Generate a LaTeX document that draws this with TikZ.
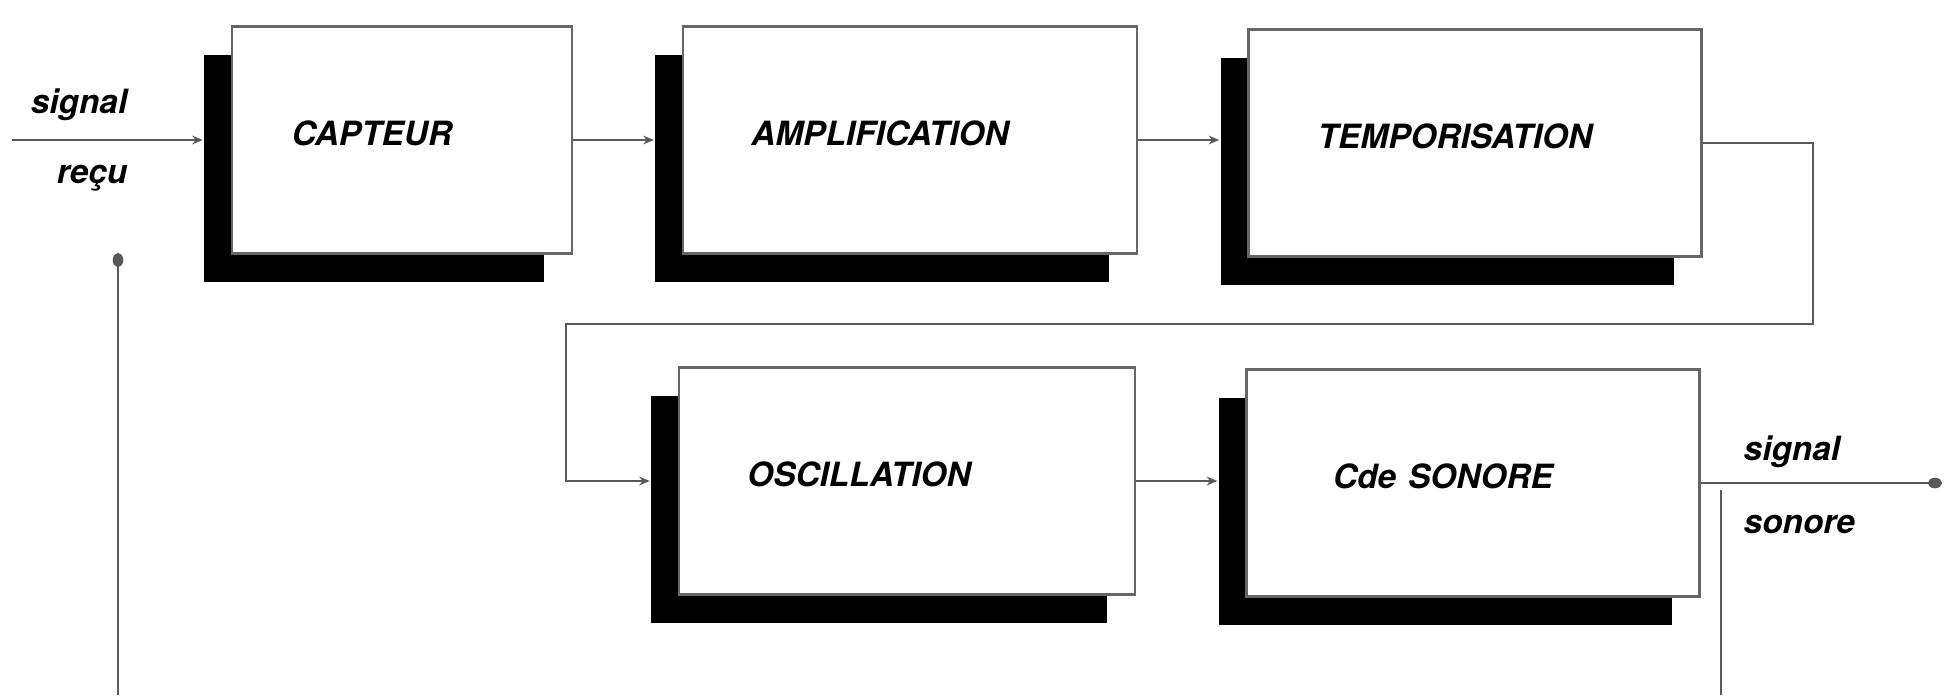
\documentclass[tikz,border=0pt]{standalone}
\usepackage{fontspec}
\setmainfont{TeX Gyre Heros}
\usetikzlibrary{shadows,arrows.meta}

\begin{document}
\begin{tikzpicture}[
    bloc/.style={draw=black!60,line width=0.7pt,fill=white,minimum height=2.27cm,
      drop shadow={shadow xshift=-0.28cm,shadow yshift=-0.28cm,fill=black,opacity=1}},
    titre/.style={font=\fontsize{9.5}{11}\selectfont\bfseries\itshape,xshift=-0.3cm,yshift=0.07cm},
    legende/.style={font=\fontsize{9.5}{11}\selectfont\bfseries\itshape,inner sep=0pt},
    fil/.style={draw=black!65,line width=0.7pt},
    entre/.style={fil,-{Stealth[length=3pt,width=2.5pt]},shorten >=0.28cm},
    bout/.style={fil,-{Circle[length=4pt,width=3pt]}}]
        \useasboundingbox (0,0) rectangle (19.54,-6.95);
        \node[bloc,minimum width=3.40cm,label={[titre]center:CAPTEUR}](capt)at(4.02,-1.40){};
        \node[bloc,minimum width=4.54cm,label={[titre]center:AMPLIFICATION}](ampl)at(9.10,-1.40){};
        \node[bloc,minimum width=4.53cm,label={[titre,xshift=0.1cm]center:TEMPORISATION}](temp)at(14.75,-1.43){};
        \node[bloc,minimum width=4.56cm,label={[titre,xshift=-0.18cm]center:OSCILLATION}](osc)at(9.07,-4.81){};
        \node[bloc,minimum width=4.53cm,label={[titre]center:Cde\hspace{0.12cm}SONORE}](cde)at(14.73,-4.83){};
        \coordinate(entree)at(0.12,-1.40);
        \coordinate(antenne)at(1.18,-2.53);
        \coordinate(antpied)at(1.18,-6.95);
        \coordinate(boucle)at(18.13,-3.24);
        \coordinate(retour)at(5.66,-3.24);
        \coordinate(sortie)at(19.42,-4.83);
        \coordinate(hp)at(17.21,-4.90);
        \coordinate(hpbas)at(17.21,-6.95);
        \draw[entre](entree)--(capt.west);
        \draw[entre](capt.east)--(ampl.west);
        \draw[entre](ampl.east)--(ampl.east-|temp.west);
        \draw[entre](temp.east)-|(boucle)--(retour)|-(osc.west);
        \draw[entre](osc.east)--(osc.east-|cde.west);
        \draw[bout](cde.east)--(sortie);
        \draw[bout](antpied)--(antenne);
        \draw[fil](hp)--(hpbas);
        \node[legende,anchor=base east](sig1)at(1.28,-1.13){signal};
        \node[legende,anchor=base east](recu)at(1.28,-1.83){reçu};
        \node[legende,anchor=base west](sig2)at(17.43,-4.60){signal};
        \node[legende,anchor=base west](sonore)at(17.43,-5.33){sonore};
    \end{tikzpicture}
\end{document}
